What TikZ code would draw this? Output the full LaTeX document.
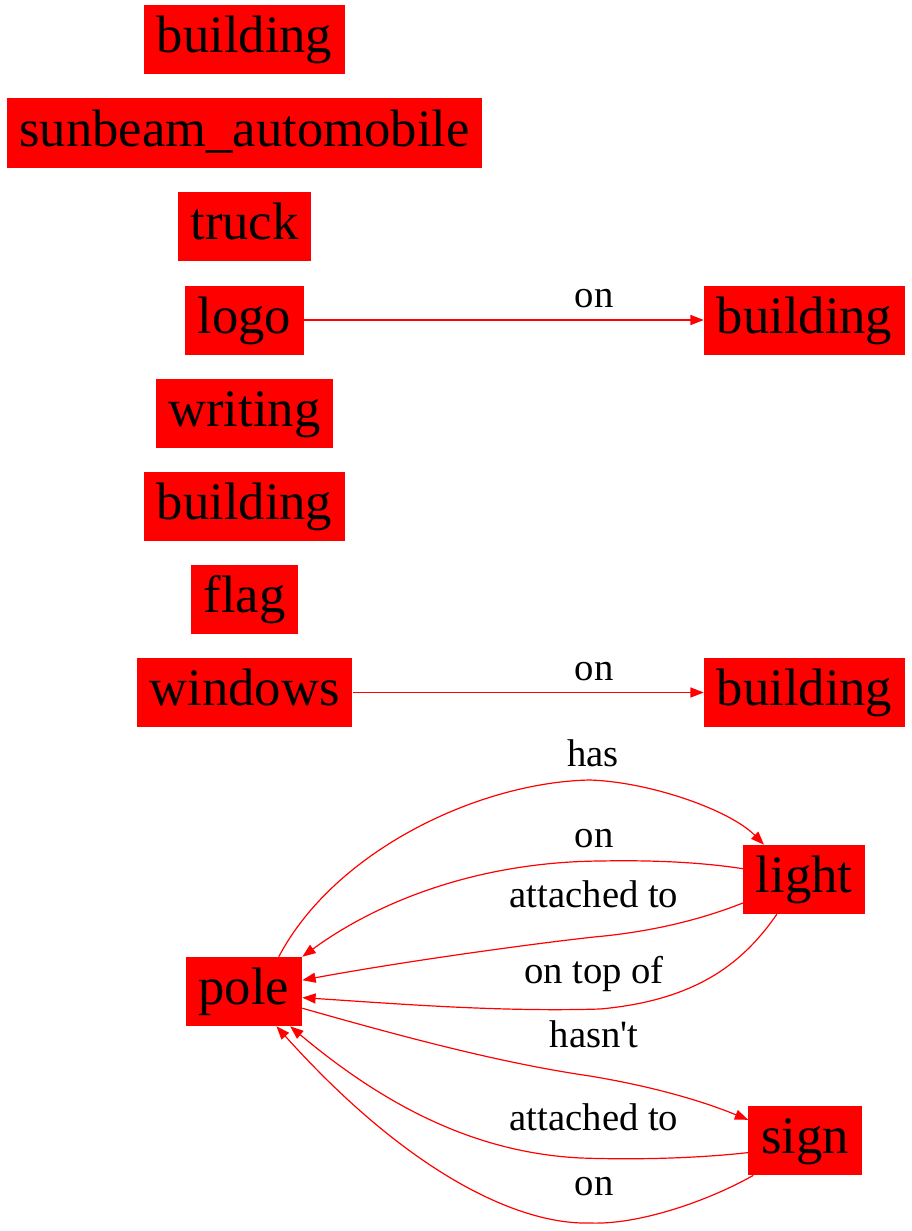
\documentclass[tikz,border=0pt]{standalone}
\usepackage{fontspec}
\setmainfont{Liberation Serif}[Ligatures=TeXOff]
\usetikzlibrary{arrows.meta}
\begin{document}
\begin{tikzpicture}[x=0.75pt,y=-0.75pt,
  obj/.style={rectangle, fill=red, draw=none, inner xsep=9.5pt, inner ysep=0pt,
    minimum height=51.75pt, font=\fontsize{39.5}{40}\selectfont,
    text height=29.6pt, text depth=9.9pt},
  rel/.style={font=\fontsize{29}{31}\selectfont, inner sep=0pt, anchor=base},
  link/.style={draw=red, line width=0.9pt, -{Triangle[length=10pt,width=7.5pt]}}]
\useasboundingbox (0,0) rectangle (911,1231);

% left column of objects
\node[obj] (b1) at (244.5,39.5) {building};
\node[obj] (sun) at (244.5,133) {sunbeam\_automobile};
\node[obj] (truck) at (244.5,226.5) {truck};
\node[obj] (logo) at (244.5,320) {logo};
\node[obj] (writing) at (244.5,413) {writing};
\node[obj] (b3) at (244.5,506) {building};
\node[obj] (flag) at (244.5,599) {flag};
\node[obj] (windows) at (244.5,692.5) {windows};
\node[obj] (pole) at (244,991.5) {pole};

% right column of objects
\node[obj] (b2) at (804.5,320) {building};
\node[obj] (b4) at (804.5,692.5) {building};
\node[obj] (light) at (804,879.5) {light};
\node[obj] (sign) at (805,1140.5) {sign};

% straight relations
\draw[link] (logo.east) -- (b2.west);
\node[rel] (l1) at (594,307) {on};
\draw[link] (windows.east) -- (b4.west);
\node[rel] (l2) at (594,680) {on};

% pole and light
\draw[link] (pole.45) .. controls (335,850) and (480,782) .. (590,780)
  .. controls (650,782) and (730,810) .. (light.139);
\node[rel] (l3) at (593,766) {has};

\draw[link] (light.170) .. controls (700,862) and (650,860) .. (600,861)
  .. controls (480,862) and (380,900) .. (pole.north east);
\node[rel] (l4) at (594,847) {on};

\draw[link] (light.-159) .. controls (700,920) and (650,932) .. (594,937)
  .. controls (530,944) and (400,962) .. (pole.11);
\node[rel] (l5) at (594,907) {attached to};

\draw[link] (light.-128) .. controls (745,960) and (700,1000) .. (600,1009)
  .. controls (500,1012) and (400,1004) .. (pole.-6);
\node[rel] (l6) at (594,983) {on top of};

% pole and sign
\draw[link] (pole.-16) .. controls (400,1036) and (500,1063) .. (590,1076)
  .. controls (650,1086) and (700,1100) .. (sign.160);
\node[rel] (l7) at (594,1047) {hasn't};

\draw[link] (sign.-168) .. controls (700,1158) and (640,1160) .. (581,1158)
  .. controls (480,1153) and (390,1110) .. (pole.-37);
\node[rel] (l8) at (594,1130) {attached to};

\draw[link] (sign.-146) .. controls (710,1200) and (640,1225) .. (590,1223)
  .. controls (520,1225) and (410,1175) .. (pole.-47);
\node[rel] (l9) at (594,1195) {on};
\end{tikzpicture}
\end{document}
